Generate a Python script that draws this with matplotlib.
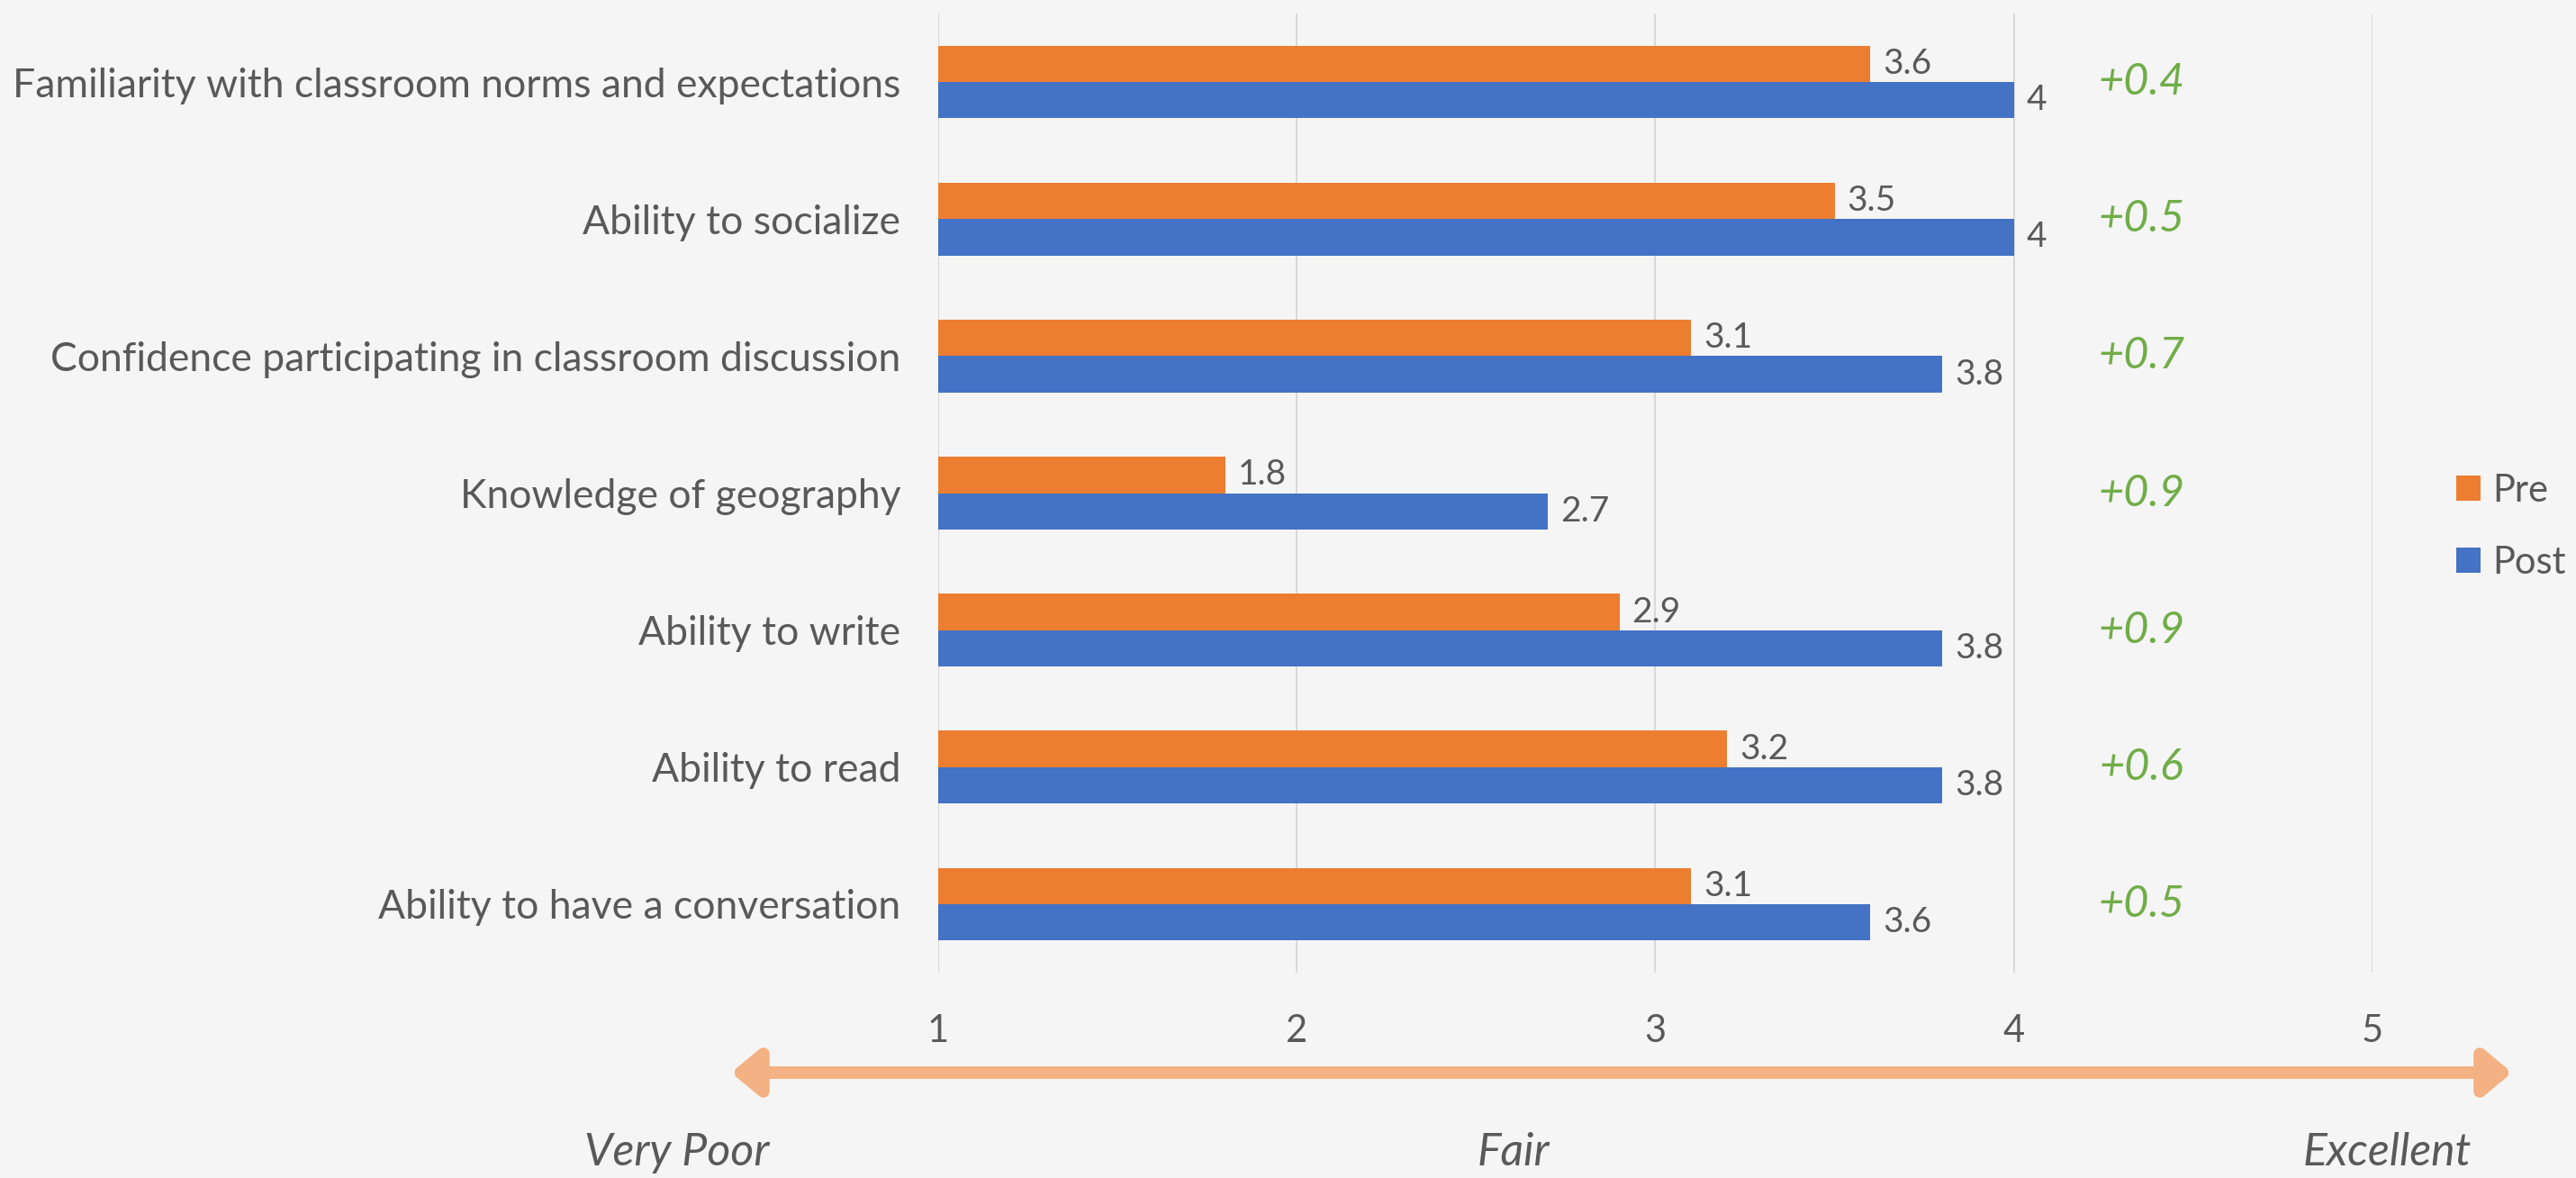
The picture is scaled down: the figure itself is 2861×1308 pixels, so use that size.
import matplotlib
matplotlib.use("Agg")
import numpy as np
from matplotlib import pyplot as plt
from matplotlib.patches import FancyArrowPatch

plt.rcParams['font.family'] = ['Lato', 'DejaVu Sans']

# data, top to bottom as in the picture
categories = [
    "Familiarity with classroom norms and expectations",
    "Ability to socialize",
    "Confidence participating in classroom discussion",
    "Knowledge of geography",
    "Ability to write",
    "Ability to read",
    "Ability to have a conversation",
]
pre = [3.6, 3.5, 3.1, 1.8, 2.9, 3.2, 3.1]
post = [4.0, 4.0, 3.8, 2.7, 3.8, 3.8, 3.6]
xticks = [1, 2, 3, 4, 5]
scale_labels = ["Very Poor", "Fair", "Excellent"]

BG = "#f5f5f5"
ORANGE = "#ed7d31"
BLUE = "#4472c4"
GREEN = "#70ad47"
GREY = "#595959"

fig = plt.figure(figsize=(28.61, 13.08), dpi=100, facecolor=BG)
ax = fig.add_axes([0.3642, 0.1743, 0.5568, 0.8142])
ax.set_facecolor(BG)

y = np.arange(len(categories))
h = 0.265
ax.barh(y - h / 2, pre, height=h, color=ORANGE, label="Pre", zorder=2)
ax.barh(y + h / 2, post, height=h, color=BLUE, label="Post", zorder=2)

ax.set_xlim(1, 5)
ax.set_ylim(len(categories) - 0.5, -0.5)
ax.set_xticks(xticks)
ax.set_xticklabels([str(t) for t in xticks])
ax.set_yticks(y)
ax.set_yticklabels(categories)
ax.tick_params(axis='both', length=0, colors=GREY)
ax.tick_params(axis='x', pad=33, labelsize=30)
ax.tick_params(axis='y', pad=30, labelsize=32)
ax.grid(axis='x', color="#d9d9d9", lw=1.5, zorder=0)
for s in ax.spines.values():
    s.set_visible(False)

# value labels and the change between pre and post
for i in range(len(categories)):
    ax.annotate(f"{pre[i]:g}", (pre[i], y[i] - h / 2), xytext=(10, 0),
                textcoords='offset points', va='center', ha='left',
                fontsize=28, color=GREY)
    ax.annotate(f"{post[i]:g}", (post[i], y[i] + h / 2), xytext=(10, 0),
                textcoords='offset points', va='center', ha='left',
                fontsize=28, color=GREY)
    diff = post[i] - pre[i]
    ax.text(4.355, y[i], f"+{diff:.1f}", ha='center', va='center',
            fontsize=35, color=GREEN, style='italic')

# legend
ax.legend(loc='center left', bbox_to_anchor=(1.035, 0.465), frameon=False,
          fontsize=30, labelcolor=GREY, handlelength=0.65, handleheight=0.65,
          handletextpad=0.3, labelspacing=1.0)

# scale arrow under the axis
yy = 1 - 1191 / 1308
arrow = FancyArrowPatch((812 / 2861, yy), (2790 / 2861, yy),
                        transform=fig.transFigure,
                        arrowstyle='<|-|>,head_length=0.9,head_width=0.75',
                        mutation_scale=20, lw=10, color="#f4b183",
                        shrinkA=0, shrinkB=0)
fig.patches.append(arrow)

for lab, xp in zip(scale_labels, [752, 1681, 2651]):
    fig.text(xp / 2861, 1 - 1280 / 1308, lab, ha='center', va='center',
             fontsize=36, color=GREY, style='italic')

fig.savefig("out.png", dpi=100, facecolor=BG)
